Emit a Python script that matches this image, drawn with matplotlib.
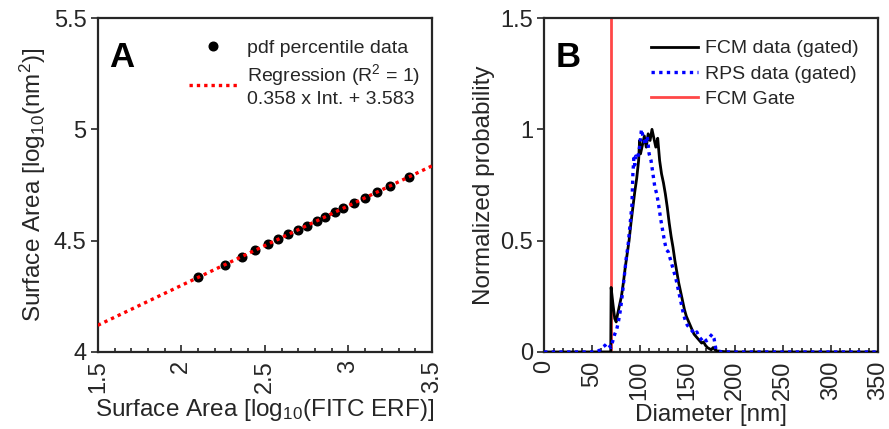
import matplotlib
matplotlib.use("Agg")
import matplotlib.pyplot as plt
from matplotlib.ticker import MultipleLocator

plt.rcParams['font.family'] = ['Liberation Sans', 'DejaVu Sans']
plt.rcParams['mathtext.fontset'] = 'custom'
plt.rcParams['mathtext.rm'] = 'Liberation Sans'
plt.rcParams['mathtext.it'] = 'Liberation Sans:italic'

# ---------------- Panel A data ----------------
pct_x = [2.10, 2.26, 2.36, 2.44, 2.52, 2.58, 2.64, 2.70, 2.75, 2.81,
         2.86, 2.92, 2.97, 3.03, 3.10, 3.17, 3.25, 3.36]
pct_y = [4.335, 4.392, 4.428, 4.457, 4.485, 4.507, 4.528, 4.550, 4.568, 4.589,
         4.607, 4.628, 4.646, 4.668, 4.693, 4.718, 4.746, 4.786]
reg_slope = 0.358
reg_intercept = 3.583
reg_x = [1.5, 3.5]

# ---------------- Panel B data ----------------
fcm_x = [0, 20, 40, 60, 69.8, 70.2, 72, 74, 75.5, 77, 79, 81, 83, 85, 87, 89, 91, 93, 95,
         97, 99, 100, 101, 103, 105, 107, 109, 111, 113, 115, 117, 119, 121, 123, 125,
         127, 129, 131, 133, 135, 137, 139, 141, 143, 145, 147, 149, 151, 153, 155, 157,
         159, 161, 163, 165, 167, 169, 171, 173, 175, 177, 179, 181, 185, 190, 200, 250,
         300, 350]
fcm_y = [0, 0, 0, 0, 0, 0.29, 0.22, 0.15, 0.135, 0.17, 0.21, 0.25, 0.31, 0.38, 0.44, 0.50,
         0.58, 0.65, 0.72, 0.78, 0.86, 0.95, 0.89, 0.93, 0.97, 0.92, 0.98, 0.95, 1.00, 0.96,
         0.92, 0.96, 0.86, 0.80, 0.76, 0.71, 0.65, 0.58, 0.52, 0.47, 0.41, 0.36, 0.31, 0.27,
         0.23, 0.19, 0.16, 0.14, 0.12, 0.10, 0.08, 0.07, 0.06, 0.05, 0.04, 0.045, 0.03, 0.02,
         0.015, 0.01, 0.02, 0.01, 0.005, 0.003, 0.001, 0, 0, 0, 0]

rps_x = [0, 10, 20, 30, 40, 50, 56, 59, 62, 64, 66, 68, 70, 72, 74, 76, 78, 80, 82, 84,
         86, 88, 90, 92, 93, 94, 95, 96, 98, 100, 102, 104, 106, 108, 110, 112, 114, 116,
         118, 120, 122, 124, 126, 128, 130, 132, 134, 136, 138, 140, 142, 144, 146, 148,
         150, 152, 154, 156, 158, 160, 162, 164, 166, 168, 170, 172, 174, 176, 178, 180,
         182, 186, 200, 250, 300, 350]
rps_y = [0, 0, 0, 0, 0, 0, 0.003, 0.01, 0.024, 0.03, 0.04, 0.03, 0.02, 0.05, 0.08, 0.10,
         0.14, 0.19, 0.26, 0.34, 0.42, 0.48, 0.57, 0.66, 0.80, 0.87, 0.84, 0.88, 0.87, 0.92,
         1.00, 0.96, 0.93, 0.97, 0.89, 0.86, 0.80, 0.74, 0.71, 0.66, 0.60, 0.55, 0.50, 0.46,
         0.45, 0.42, 0.39, 0.36, 0.33, 0.29, 0.25, 0.21, 0.17, 0.14, 0.12, 0.11, 0.10, 0.09,
         0.08, 0.09, 0.07, 0.06, 0.05, 0.06, 0.05, 0.06, 0.07, 0.08, 0.06, 0.01, 0.005, 0,
         0, 0, 0, 0]
gate_x = 70

text_c = '#262626'
spine_c = '#262626'

fig = plt.figure(figsize=(8.89, 4.29), dpi=100)
axA = fig.add_axes([0.110, 0.1795, 0.376, 0.7785])
axB = fig.add_axes([0.612, 0.1795, 0.376, 0.7785])

def style(ax):
    for s in ax.spines.values():
        s.set_color(spine_c)
        s.set_linewidth(1.6)
    ax.tick_params(axis='both', which='both', colors=spine_c, labelcolor=text_c,
                   labelsize=17, width=1.2)
    ax.tick_params(axis='y', which='major', direction='out', length=5, pad=3)
    ax.tick_params(axis='x', which='major', direction='in', length=5, labelrotation=90, pad=6)
    ax.tick_params(axis='x', which='minor', direction='in', length=3)
    ax.tick_params(top=False, right=False, which='both')

# ---------------- Panel A ----------------
reg_y = [reg_slope * v + reg_intercept for v in reg_x]
axA.plot(pct_x, pct_y, 'o', color='black', ms=6.2, zorder=3, label='pdf percentile data')
axA.plot(reg_x, reg_y, linestyle=(0, (1, 1.2)), color='#ff0000', lw=2.4, zorder=4,
         label='Regression (R$^2$ = 1)\n0.358 x Int. + 3.583')
axA.set_xlim(1.5, 3.5)
axA.set_ylim(4, 5.5)
axA.set_xticks([1.5, 2, 2.5, 3, 3.5])
axA.set_xticklabels(['1.5', '2', '2.5', '3', '3.5'])
axA.set_yticks([4, 4.5, 5, 5.5])
axA.set_yticklabels(['4', '4.5', '5', '5.5'])
axA.xaxis.set_minor_locator(MultipleLocator(0.1))
style(axA)
axA.set_xlabel('Surface Area [log$_{10}$(FITC ERF)]', fontsize=17.5, color=text_c, labelpad=3)
axA.set_ylabel('Surface Area [log$_{10}$(nm$^2$)]', fontsize=17.5, color=text_c, labelpad=4)
axA.text(0.035, 0.93, 'A', transform=axA.transAxes, fontsize=25, fontweight='bold',
         color='black', va='top', ha='left')
hA, lA = axA.get_legend_handles_labels()
axA.legend(hA, lA, loc='upper right', bbox_to_anchor=(1.0, 0.972), frameon=False,
           fontsize=14, handlelength=2.5, handletextpad=0.5, labelspacing=0.3,
           borderaxespad=0.2, labelcolor=text_c)

# ---------------- Panel B ----------------
axB.plot(fcm_x, fcm_y, color='black', lw=2.0, label='FCM data (gated)', zorder=3)
axB.plot(rps_x, rps_y, color='#0000ff', lw=2.4, linestyle=(0, (1, 1.3)),
         label='RPS data (gated)', zorder=4)
axB.axvline(gate_x, color='#ff4747', lw=2.0, label='FCM Gate', zorder=2)
axB.set_xlim(0, 350)
axB.set_ylim(0, 1.5)
axB.set_xticks(list(range(0, 351, 50)))
axB.set_yticks([0, 0.5, 1, 1.5])
axB.set_yticklabels(['0', '0.5', '1', '1.5'])
axB.xaxis.set_minor_locator(MultipleLocator(10))
style(axB)
axB.set_xlabel('Diameter [nm]', fontsize=17.5, color=text_c, labelpad=3)
axB.set_ylabel('Normalized probability', fontsize=17.5, color=text_c, labelpad=4)
axB.text(0.035, 0.93, 'B', transform=axB.transAxes, fontsize=25, fontweight='bold',
         color='black', va='top', ha='left')
axB.legend(loc='upper right', bbox_to_anchor=(0.975, 0.97), frameon=False,
           fontsize=14, handlelength=2.4, handletextpad=0.35, labelspacing=0.4,
           borderaxespad=0.2, labelcolor=text_c)

fig.savefig('out.png', dpi=100)
